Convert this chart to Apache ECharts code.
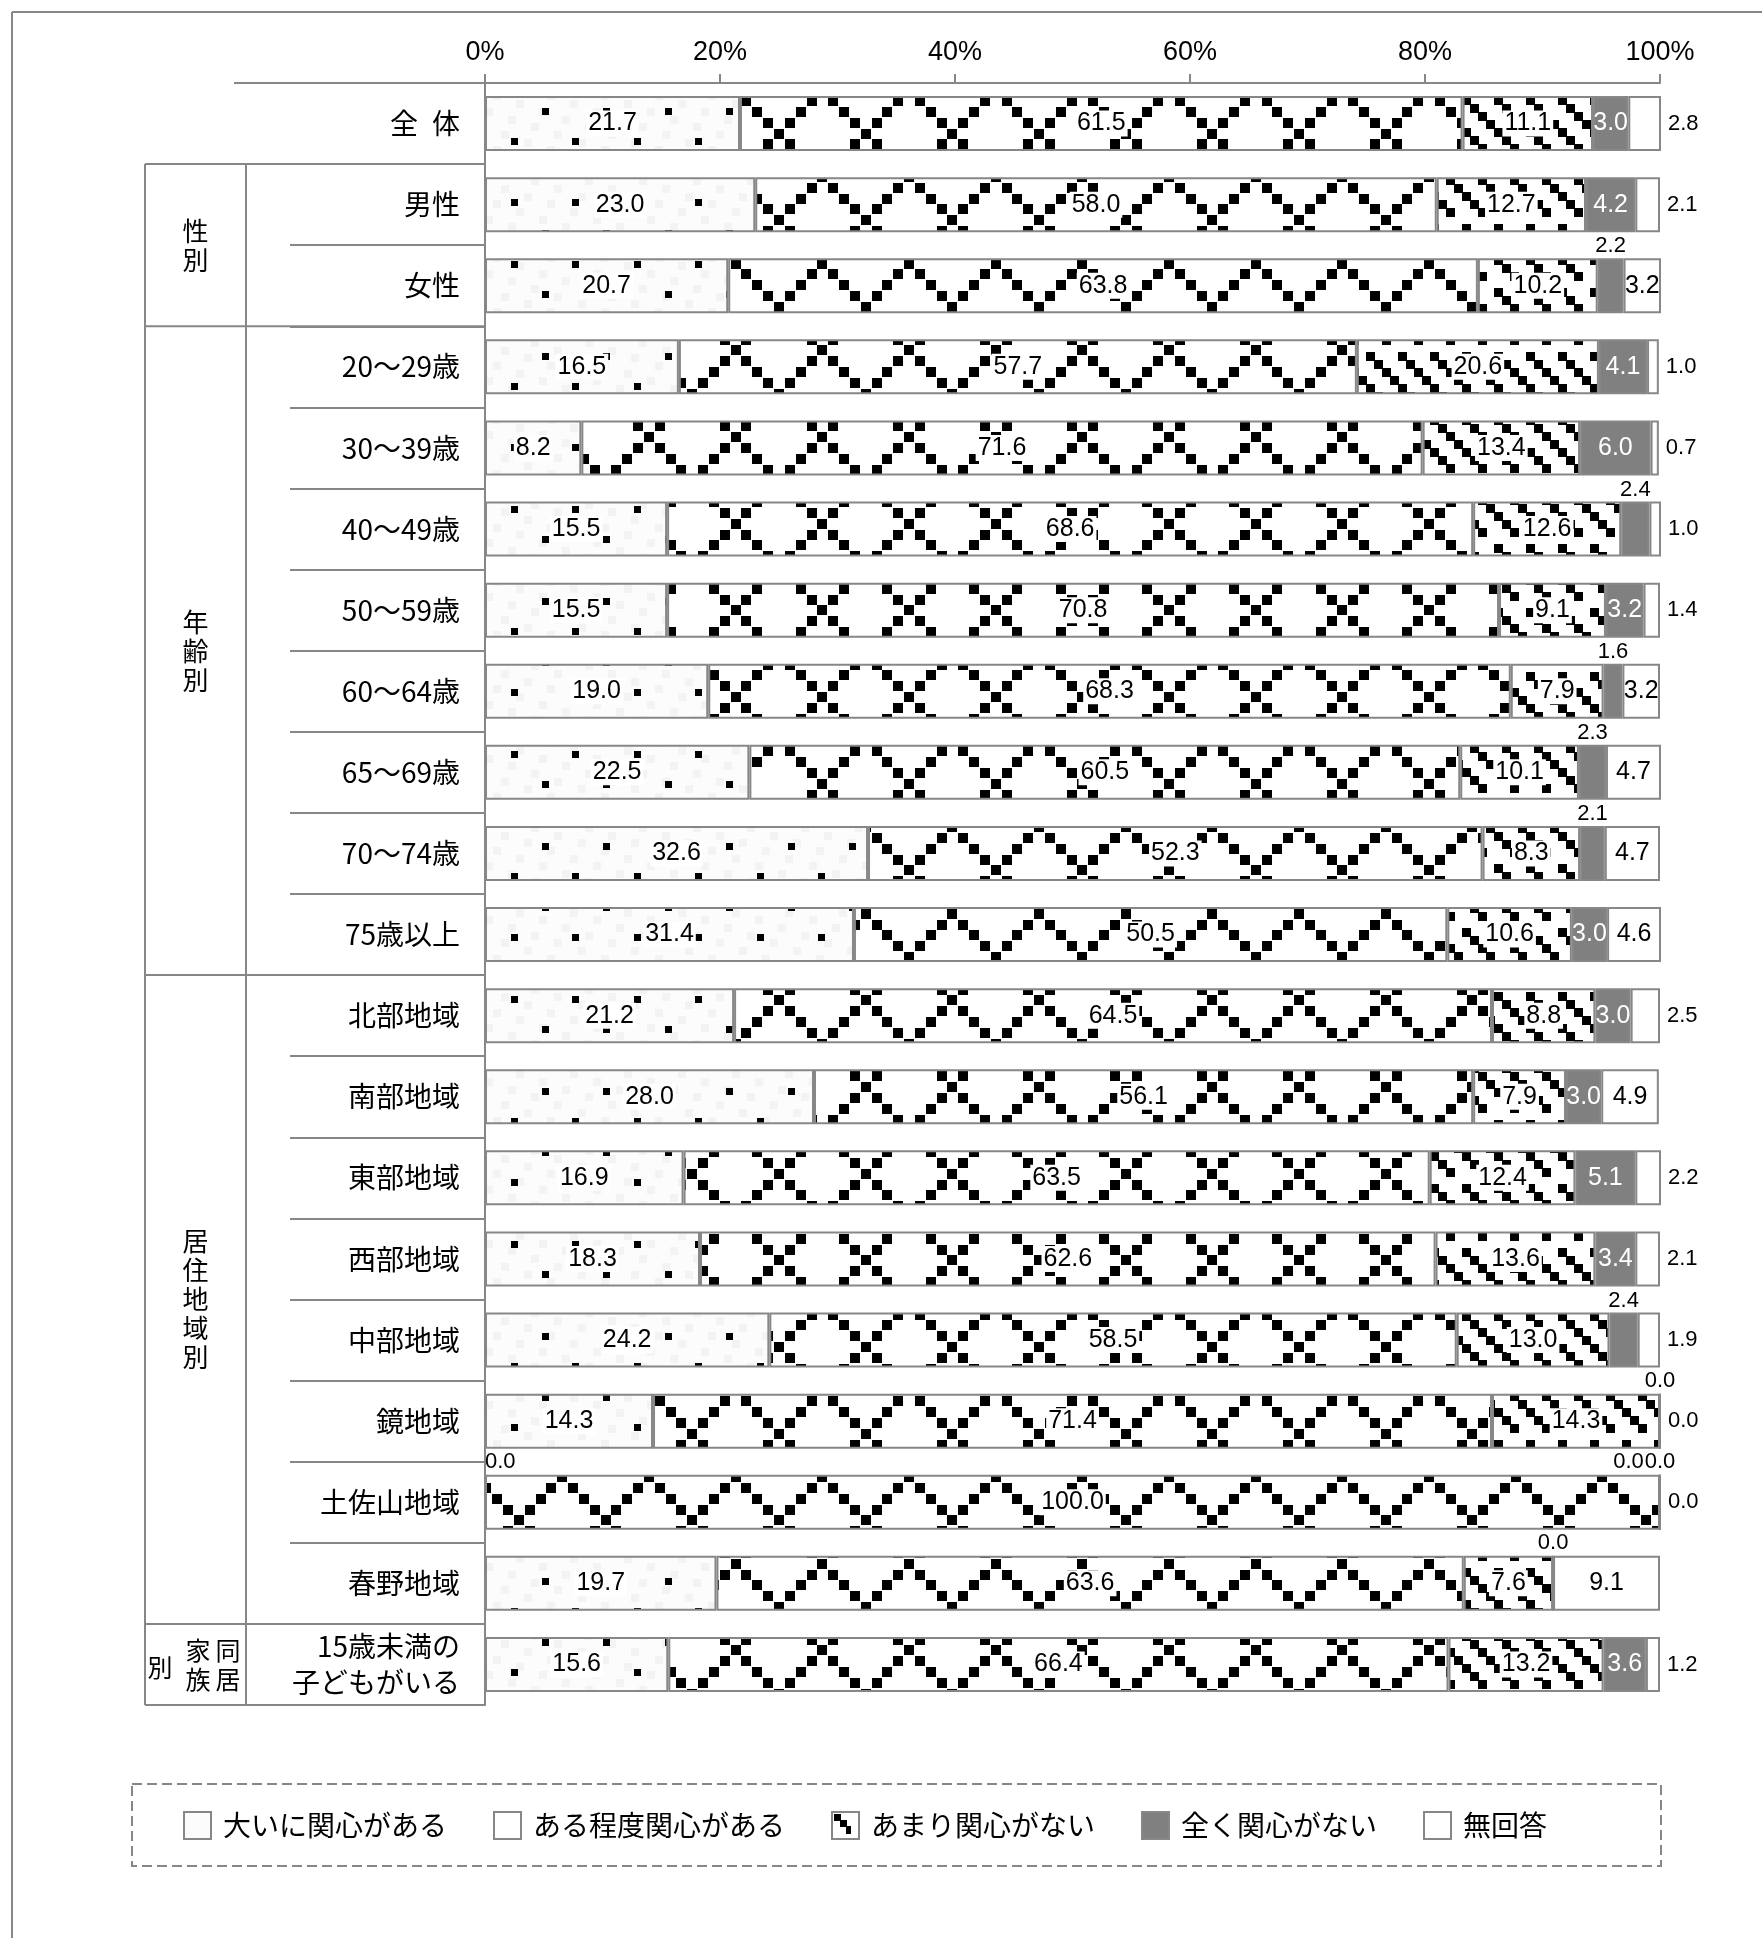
<!DOCTYPE html>
<html>
<head>
<meta charset="utf-8">
<script src="https://cdn.jsdelivr.net/npm/echarts@6/dist/echarts.min.js"></script>
<style>
  html, body { margin: 0; padding: 0; background: #fff; }
  #chart { width: 1762px; height: 1938px; }
</style>
</head>
<body>
<div id="chart"></div>
<script>
// ---- data ----
const categories = ['全\u2002体', '男性', '女性', '20〜29歳', '30〜39歳', '40〜49歳', '50〜59歳', '60〜64歳', '65〜69歳', '70〜74歳', '75歳以上', '北部地域', '南部地域', '東部地域', '西部地域', '中部地域', '鏡地域', '土佐山地域', '春野地域', '15歳未満の\n子どもがいる'];
const seriesNames = ['大いに関心がある', 'ある程度関心がある', 'あまり関心がない', '全く関心がない', '無回答'];
const veryInterested     = [21.7, 23.0, 20.7, 16.5, 8.2, 15.5, 15.5, 19.0, 22.5, 32.6, 31.4, 21.2, 28.0, 16.9, 18.3, 24.2, 14.3, 0.0, 19.7, 15.6];
const somewhatInterested = [61.5, 58.0, 63.8, 57.7, 71.6, 68.6, 70.8, 68.3, 60.5, 52.3, 50.5, 64.5, 56.1, 63.5, 62.6, 58.5, 71.4, 100.0, 63.6, 66.4];
const notVeryInterested  = [11.1, 12.7, 10.2, 20.6, 13.4, 12.6, 9.1, 7.9, 10.1, 8.3, 10.6, 8.8, 7.9, 12.4, 13.6, 13.0, 14.3, 0.0, 7.6, 13.2];
const notInterestedAtAll = [3.0, 4.2, 2.2, 4.1, 6.0, 2.4, 3.2, 1.6, 2.3, 2.1, 3.0, 3.0, 3.0, 5.1, 3.4, 2.4, 0.0, 0.0, 0.0, 3.6];
const noAnswer           = [2.8, 2.1, 3.2, 1.0, 0.7, 1.0, 1.4, 3.2, 4.7, 4.7, 4.6, 2.5, 4.9, 2.2, 2.1, 1.9, 0.0, 0.0, 9.1, 1.2];
const xTickStep = 20;
// row groups of the left-hand table: first row, last row, vertical caption
const groups = [
  { from: 1,  to: 2,  text: '性\n別' },
  { from: 3,  to: 10, text: '年\n齢\n別' },
  { from: 11, to: 18, text: '居\n住\n地\n域\n別' }
];

// ---- layout ----
const W = 1762, H = 1938;
const GRID_L = 485, GRID_R = 1660, GRID_T = 83, ROW = 81.1;
const GRID_B = GRID_T + ROW * categories.length;
const LINE = '#878787';
const CJK = "'Noto Sans CJK JP', 'Noto Sans', sans-serif";
const NUM = "'Liberation Sans', Arial, sans-serif";
const NARROW = "'Liberation Sans Narrow', 'Liberation Sans', Arial, sans-serif";

// ---- fill textures (anchored to the page origin) ----
function makeCanvas(w, h) {
  const c = document.createElement('canvas');
  c.width = w || W; c.height = h || H;
  return c;
}
// sparse dots on a faintly mottled ground
function dotTexture() {
  const c = makeCanvas(), g = c.getContext('2d');
  g.fillStyle = '#fcfcfc'; g.fillRect(0, 0, W, H);
  g.fillStyle = '#f3f3f3';
  const cell = 7.7;
  for (let j = 0; j * cell < H; j++) for (let i = 0; i * cell < W; i++) {
    if ((i * 3 + j * 5) % 7 === 0) g.fillRect(Math.round(i * cell), Math.round(j * cell), 8, 8);
  }
  g.fillStyle = '#000';
  const px = 61.5, py = 61.25;
  for (let j = -3; j * py < H + py; j++) for (let i = -12; i * px < W + px; i++) {
    const ax = 545 + i * px - 3.5, ay = 111 + j * py - 3.5;
    g.fillRect(Math.round(ax), Math.round(ay), 7, 7);
    g.fillRect(Math.round(ax - px / 2), Math.round(ay - py / 2), 7, 7);
  }
  return c;
}
// stepped zigzag lattice
function latticeTexture() {
  const c = makeCanvas(), g = c.getContext('2d');
  g.fillStyle = '#fff'; g.fillRect(0, 0, W, H);
  g.fillStyle = '#000';
  const b = 86.67 / 8, x0 = 779, y0 = 307;
  const m0 = Math.floor(-x0 / b) - 2, m1 = Math.ceil((W - x0) / b) + 2;
  const n0 = Math.floor(-y0 / b) - 2, n1 = Math.ceil((H - y0) / b) + 2;
  for (let n = n0; n <= n1; n++) for (let m = m0; m <= m1; m++) {
    if ((((m - n) % 8) + 8) % 8 === 0 || (((m + n) % 8) + 8) % 8 === 0) {
      g.fillRect(Math.round(x0 + m * b - 5), Math.round(y0 + n * b - 5), 10, 10);
    }
  }
  return c;
}
// dashed downward diagonals
function drawDiagonals(g, w, h, x0, y0) {
  g.fillStyle = '#fff'; g.fillRect(0, 0, w, h);
  g.fillStyle = '#000';
  const b = 8;
  const m0 = Math.floor(-x0 / b) - 2, m1 = Math.ceil((w - x0) / b) + 2;
  const n0 = Math.floor(-y0 / b) - 2, n1 = Math.ceil((h - y0) / b) + 2;
  for (let n = n0; n <= n1; n++) for (let m = m0; m <= m1; m++) {
    const d = (((m - n) % 4) + 4) % 4;
    const r = ((n % 8) + 8) % 8;
    if (d === 0 && r < 7) g.fillRect(Math.round(x0 + m * b), Math.round(y0 + n * b), 9, 9);
  }
}
function diagonalTexture() {
  const c = makeCanvas(), g = c.getContext('2d');
  drawDiagonals(g, W, H, 1462, 96);
  return c;
}
// small swatch for the legend key of the diagonal fill
function diagonalSwatch() {
  const c = makeCanvas(27, 27), g = c.getContext('2d');
  g.fillStyle = '#fff'; g.fillRect(0, 0, 27, 27);
  g.fillStyle = '#000';
  g.fillRect(2, 2, 7, 7);
  g.fillRect(8, 8, 7, 7);
  g.fillRect(14, 14, 5, 8);
  return c;
}

const fills = [
  { image: dotTexture(), repeat: 'repeat' },
  { image: latticeTexture(), repeat: 'repeat' },
  { image: diagonalTexture(), repeat: 'repeat' },
  '#808080',
  '#ffffff'
];
const valueSets = [veryInterested, somewhatInterested, notVeryInterested, notInterestedAtAll, noAnswer];

// label placement for one segment
function segmentLabel(s, i, v) {
  const inside = { show: true, position: 'inside', fontSize: 25, fontFamily: NUM, color: '#000' };
  const small = { show: true, fontSize: 22, fontFamily: NUM, color: '#000' };
  if (s <= 2) {
    if (v > 0) return Object.assign({}, inside, { backgroundColor: '#fff', padding: [1, 2, 0, 2] });
    const lab = Object.assign({}, small, { position: 'top', distance: 1 });
    if (s === 0) lab.align = 'left';
    // keep two zero labels at the same spot side by side
    if (s === 2 && notInterestedAtAll[i] === 0) lab.padding = [0, 63, 0, 0];
    return lab;
  }
  if (s === 3) {
    if (v >= 3) return Object.assign({}, inside, { color: '#fff' });
    return Object.assign({}, small, { position: 'top', distance: 1 });
  }
  if (v >= 3) return inside;
  return Object.assign({}, small, { position: 'right', distance: 7 });
}

const series = seriesNames.map((name, s) => ({
  name,
  type: 'bar',
  stack: 'total',
  barWidth: 55,
  itemStyle: { color: fills[s], borderColor: LINE, borderWidth: 2 },
  label: { show: true, formatter: p => Number(p.value).toFixed(1) },
  labelLayout: { hideOverlap: false },
  data: valueSets[s].map((v, i) => ({ value: v, label: segmentLabel(s, i, v) }))
}));

// legend keys
const legendKeys = ['#fcfcfc', '#ffffff', { image: diagonalSwatch(), repeat: 'no-repeat' }, '#808080', '#ffffff'];

// ---- table lines and captions at the left ----
const rowY = k => GRID_T + ROW * k;
const graphics = [];
function hline(x1, x2, y) {
  graphics.push({ type: 'line', shape: { x1, y1: y, x2, y2: y }, style: { stroke: LINE, lineWidth: 2 }, z: 10 });
}
function vline(x, y1, y2) {
  graphics.push({ type: 'line', shape: { x1: x, y1, x2: x, y2 }, style: { stroke: LINE, lineWidth: 2 }, z: 10 });
}
// outer frame
hline(12, W, 12);
vline(12, 12, H);
// header rule
hline(234, GRID_L, GRID_T);
// group rules and columns
[1, 3, 11, 19, 20].forEach(k => hline(145, GRID_L, rowY(k)));
vline(145, rowY(1), GRID_B);
vline(246, rowY(1), GRID_B);
groups.forEach(gp => {
  graphics.push({
    type: 'text', x: 195.5, y: (rowY(gp.from) + rowY(gp.to + 1)) / 2, z: 10,
    style: { text: gp.text, fontSize: 26, lineHeight: 29, fontFamily: CJK, fill: '#000', align: 'center', verticalAlign: 'middle' }
  });
});
// vertical caption of the last group, written in columns
const lastMid = (rowY(19) + rowY(20)) / 2;
[['同\n居', 228], ['家\n族', 198]].forEach(([t, x]) => {
  graphics.push({ type: 'text', x, y: lastMid + 1, z: 10,
    style: { text: t, fontSize: 25, lineHeight: 29, fontFamily: CJK, fill: '#000', align: 'center', verticalAlign: 'middle' } });
});
graphics.push({ type: 'text', x: 160, y: lastMid + 3, z: 10,
  style: { text: '別', fontSize: 25, fontFamily: CJK, fill: '#000', align: 'center', verticalAlign: 'middle' } });
// legend frame
graphics.push({ type: 'rect', shape: { x: 132, y: 1784, width: 1529, height: 82 }, z: 1,
  style: { fill: 'none', stroke: LINE, lineWidth: 2, lineDash: [10, 5] } });

const chart = echarts.init(document.getElementById('chart'), null, { renderer: 'canvas', devicePixelRatio: 1 });
chart.setOption({
  animation: false,
  backgroundColor: '#fff',
  grid: { left: GRID_L, top: GRID_T, width: GRID_R - GRID_L, height: GRID_B - GRID_T, containLabel: false },
  xAxis: {
    type: 'value', position: 'top', min: 0, max: 100, interval: xTickStep,
    axisLine: { show: true, lineStyle: { color: LINE, width: 2 } },
    axisTick: { show: true, length: 9, lineStyle: { color: LINE, width: 2 } },
    axisLabel: { formatter: '{value}%', fontSize: 27, fontFamily: NARROW, color: '#000', margin: 17 },
    splitLine: { show: false }
  },
  yAxis: {
    type: 'category', inverse: true, data: categories,
    axisLine: { show: true, lineStyle: { color: LINE, width: 2 } },
    axisTick: { show: true, interval: 0, length: 195, lineStyle: { color: LINE, width: 2 } },
    axisLabel: { interval: 0, margin: 25, fontSize: 28, lineHeight: 36, fontFamily: CJK, color: '#000' }
  },
  legend: {
    left: 178, top: 1806, icon: 'rect', itemWidth: 27, itemHeight: 27, itemGap: 46,
    itemStyle: { borderColor: LINE, borderWidth: 2 },
    textStyle: { fontSize: 28, fontFamily: CJK, color: '#000', padding: [0, 0, 0, 7] },
    data: seriesNames.map((name, s) => ({ name, itemStyle: { color: legendKeys[s], borderColor: LINE, borderWidth: 2 } }))
  },
  graphic: graphics,
  series
});
</script>
</body>
</html>
